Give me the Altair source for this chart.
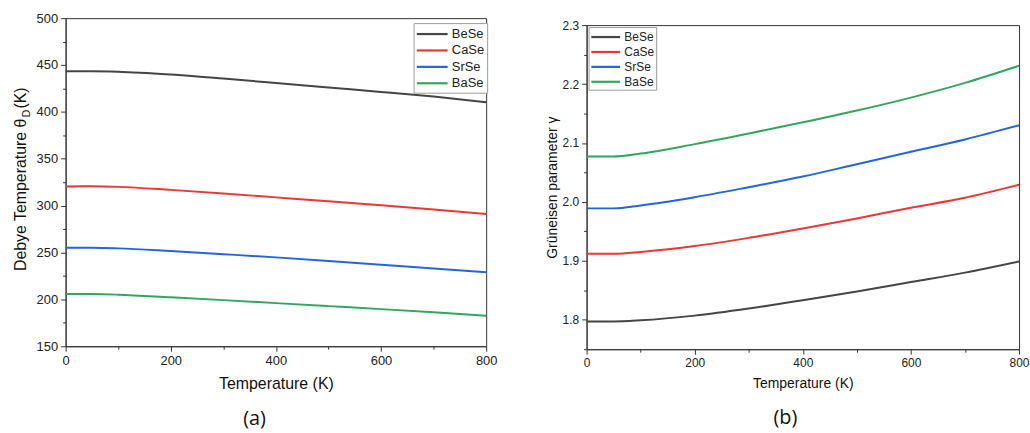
import altair as alt
import pandas as pd

# Temperature grid (K) shared by both panels
temperature = [0, 50, 100, 200, 300, 400, 500, 600, 700, 800]
compounds = ["BeSe", "CaSe", "SrSe", "BaSe"]
colors = ["#454545", "#f03535", "#2464e0", "#2fa85e"]

# Debye temperature theta_D (K)
debye_bese = [443.3, 443.3, 442.8, 439.8, 435.5, 430.8, 426.0, 421.3, 416.3, 410.3]
debye_case = [320.4, 320.6, 320.0, 316.8, 313.0, 308.8, 304.6, 300.3, 295.8, 291.0]
debye_srse = [255.0, 255.1, 254.4, 251.5, 248.2, 244.8, 241.0, 237.0, 233.0, 228.9]
debye_base = [205.6, 205.6, 205.0, 202.2, 199.2, 196.0, 192.8, 189.6, 186.2, 182.6]

# Grueneisen parameter gamma
gamma_bese = [1.797, 1.797, 1.799, 1.807, 1.819, 1.833, 1.848, 1.864, 1.880, 1.899]
gamma_case = [1.912, 1.912, 1.915, 1.925, 1.939, 1.955, 1.972, 1.990, 2.007, 2.029]
gamma_srse = [1.989, 1.989, 1.994, 2.008, 2.025, 2.043, 2.064, 2.085, 2.106, 2.130]
gamma_base = [2.077, 2.077, 2.082, 2.098, 2.116, 2.135, 2.155, 2.177, 2.202, 2.231]

FONT = "Liberation Sans"


def long_table(series):
    rows = []
    for name, values in zip(compounds, series):
        for t, v in zip(temperature, values):
            rows.append({"T": t, "value": v, "compound": name})
    return pd.DataFrame(rows)


debye_df = long_table([debye_bese, debye_case, debye_srse, debye_base])
gamma_df = long_table([gamma_bese, gamma_case, gamma_srse, gamma_base])


def color_enc(lx, ly, font_size, sym_size, row_pad, pad):
    # line swatch drawn from the left edge of the symbol column rightwards
    half = sym_size ** 0.5
    return alt.Color(
        "compound:N",
        scale=alt.Scale(domain=compounds, range=colors),
        legend=alt.Legend(
            title=None, orient="none", legendX=lx, legendY=ly,
            symbolType="M-1,0H3", symbolSize=sym_size, symbolStrokeWidth=2.2,
            labelFont=FONT, labelFontSize=font_size, labelColor="#222",
            labelOffset=half + 3, rowPadding=row_pad, padding=pad,
            strokeColor="#9a9a9a", fillColor="white",
        ),
    )


def x_axis(label_size, title_size):
    return alt.Axis(
        title="Temperature (K)", values=list(range(0, 801, 100)),
        labelExpr="datum.value % 200 === 0 ? datum.label : ''",
        tickSize={"condition": {"test": "datum.value % 200 === 0", "value": 5}, "value": 3},
        labelFont=FONT, labelFontSize=label_size, labelColor="#222", labelPadding=3,
        titleFont=FONT, titleFontSize=title_size, titleFontWeight="normal",
        titleColor="#111", titlePadding=9, grid=False,
        domainColor="#333", tickColor="#333", labelFlush=False,
    )


# ---- panel (a): Debye temperature ----
W1, H1 = 423, 330
debye_lines = alt.Chart(debye_df).mark_line(strokeWidth=2, interpolate="monotone").encode(
    x=alt.X("T:Q", scale=alt.Scale(domain=[0, 800], nice=False), axis=x_axis(13, 16)),
    y=alt.Y(
        "value:Q", scale=alt.Scale(domain=[150, 500], nice=False, zero=False),
        axis=alt.Axis(
            title=None, values=list(range(150, 501, 25)),
            labelExpr="datum.value % 50 === 0 ? datum.label : ''",
            tickSize={"condition": {"test": "datum.value % 50 === 0", "value": 5}, "value": 3},
            labelFont=FONT, labelFontSize=13, labelColor="#222", labelPadding=3,
            grid=False, domainColor="#333", tickColor="#333",
        ),
    ),
    color=color_enc(350, 5, 13, 240, 0.5, 2),
)

ytitle_main = alt.Chart(pd.DataFrame({"s": ["Debye Temperature \u03b8"]})).mark_text(
    angle=270, align="right", baseline="middle", font=FONT, fontSize=16, color="#111"
).encode(text="s:N", x=alt.value(-45), y=alt.value(101))
ytitle_sub = alt.Chart(pd.DataFrame({"s": ["D"]})).mark_text(
    angle=270, align="left", baseline="middle", font=FONT, fontSize=11, color="#111"
).encode(text="s:N", x=alt.value(-39), y=alt.value(100))
ytitle_unit = alt.Chart(pd.DataFrame({"s": ["(K)"]})).mark_text(
    angle=270, align="left", baseline="middle", font=FONT, fontSize=16, color="#111"
).encode(text="s:N", x=alt.value(-45), y=alt.value(91))
tag_a = alt.Chart(pd.DataFrame({"s": ["(a)"]})).mark_text(
    font="Open Sans", fontSize=20, color="#111", baseline="middle"
).encode(text="s:N", x=alt.value(190), y=alt.value(403))

panel_a = alt.layer(debye_lines, ytitle_main, ytitle_sub, ytitle_unit, tag_a).properties(
    width=W1, height=H1
)

# ---- panel (b): Grueneisen parameter ----
W2, H2 = 435, 326
gamma_lines = alt.Chart(gamma_df).mark_line(strokeWidth=2, interpolate="monotone").encode(
    x=alt.X("T:Q", scale=alt.Scale(domain=[0, 800], nice=False), axis=x_axis(12, 14)),
    y=alt.Y(
        "value:Q", scale=alt.Scale(domain=[1.75, 2.3], nice=False, zero=False),
        axis=alt.Axis(
            title="Gr\u00fcneisen parameter \u03b3",
            values=[1.75, 1.8, 1.85, 1.9, 1.95, 2.0, 2.05, 2.1, 2.15, 2.2, 2.25, 2.3],
            format=".1f",
            labelExpr="round(datum.value * 100) % 10 === 0 ? datum.label : ''",
            tickSize={"condition": {"test": "round(datum.value * 100) % 10 === 0", "value": 5}, "value": 3},
            labelFont=FONT, labelFontSize=12, labelColor="#222", labelPadding=3,
            titleFont=FONT, titleFontSize=14, titleFontWeight="normal",
            titleColor="#111", titlePadding=3,
            grid=False, domainColor="#333", tickColor="#333",
        ),
    ),
    color=color_enc(2, 9, 12, 210, 0, 1.5),
)
tag_b = alt.Chart(pd.DataFrame({"s": ["(b)"]})).mark_text(
    font="Open Sans", fontSize=20, color="#111", baseline="middle"
).encode(text="s:N", x=alt.value(200), y=alt.value(69 + H2))

panel_b = alt.layer(gamma_lines, tag_b).properties(width=W2, height=H2)

# thin empty strip that sets panel (b) a little lower than panel (a)
strip = alt.Chart(pd.DataFrame({"s": [0]})).mark_rule(strokeOpacity=0).encode(
    x=alt.value(0), x2=alt.value(1), y=alt.value(0)
).properties(width=W2, height=1, view=alt.ViewBackground(stroke="transparent"))

right_col = alt.vconcat(strip, panel_b, spacing=-2)

chart = (
    alt.hconcat(panel_a, right_col, spacing=46)
    .resolve_scale(color="independent")
    .resolve_legend(color="independent")
    .properties(padding={"left": 12, "top": 10, "right": 0, "bottom": 0}, background="white")
    .configure_view(stroke="#333", strokeWidth=1)
)

chart.save("out.html", embed_options={"renderer": "svg", "actions": False})
